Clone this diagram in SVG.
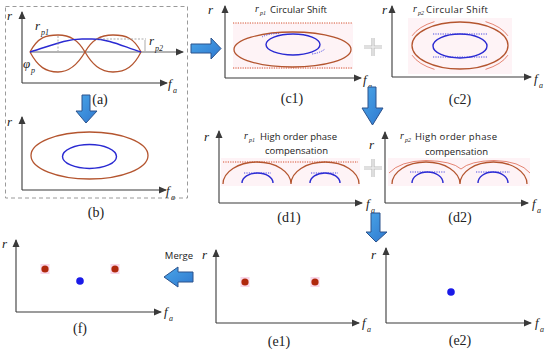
<svg xmlns="http://www.w3.org/2000/svg" width="550" height="351" viewBox="0 0 550 351">
<style>
.axis{stroke:#3a3a3a;stroke-width:1.1;fill:none;marker-end:url(#ah)}
.ax{font-family:"Liberation Serif",serif;font-style:italic;font-size:13px;fill:#222}
.sub{font-family:"Liberation Serif",serif;font-style:italic;font-size:8px;fill:#222}
.lbl{font-family:"Liberation Serif",serif;font-size:14px;fill:#222;text-anchor:middle}
.ttl{font-family:"Open Sans","Liberation Sans",sans-serif;font-size:9.5px;fill:#222}
.brown{stroke:#b4552f;stroke-width:1.3;fill:none}
.blue{stroke:#2a2ad2;stroke-width:1.4;fill:none}
.rdot{stroke:#d0401c;stroke-width:0.9;stroke-dasharray:1.2 1.2;fill:none}
.bdot{stroke:#3a3ae0;stroke-width:0.9;stroke-dasharray:1.2 1.2;fill:none}
.rthin{stroke:#d8553a;stroke-width:0.7;fill:none}
.pink{fill:#fef3f6}
.pinksq{fill:#f9d6e8}
.rd{fill:#b0280c}
.bd{fill:#1a1ae8}
.big{fill:url(#bg);stroke:#2c528c;stroke-width:1}
.plus{stroke:#bdbdbd;stroke-width:3.2;fill:none}
.plusin{stroke:#ececec;stroke-width:1.4;fill:none}
</style>
<defs>
<marker id="ah" markerWidth="8" markerHeight="8" refX="7" refY="4" orient="auto" markerUnits="userSpaceOnUse"><path d="M0,0.5 L8,4 L0,7.5 z" fill="#3a3a3a"/></marker>
<linearGradient id="bg" x1="0" y1="0" x2="1" y2="1"><stop offset="0" stop-color="#4aa6e8"/><stop offset="1" stop-color="#2f78cf"/></linearGradient>
</defs>
<rect width="550" height="351" fill="#fff"/>

<g id="panel-a">
<rect x="5.5" y="6.5" width="182" height="191.5" fill="none" stroke="#9a9a9a" stroke-width="1" stroke-dasharray="4 3"/>
<path class="axis" d="M22,83 V12"/>
<path class="axis" d="M22,83 H167"/>
<text class="ax" x="7" y="20">r</text>
<text class="ax" x="168" y="88">f</text><text class="sub" x="173" y="93">a</text>
<path d="M30,52 H183" stroke="#555" stroke-width="0.9" fill="none" marker-end="url(#ah)"/>
<path class="brown" d="M30,52 C38,37 46,35 58,35 C70,35 78,40 85,52 C92,64 100,72 113,72 C126,72 134,66 141,52"/>
<path class="brown" d="M30,52 C38,67 46,72 58,72 C70,72 78,64 85,52 C92,40 100,35 113,35 C126,35 134,38 141,52"/>
<path class="blue" d="M30,52 C48,47 64,39 82,39 L92,39 C110,39 124,47 141,52"/>
<path d="M58,36 V51" stroke="#888" stroke-width="0.7" stroke-dasharray="2 1.5"/>
<path d="M96,39 H146" stroke="#888" stroke-width="0.7" stroke-dasharray="2 1.5"/>
<path d="M145,40 V51" stroke="#888" stroke-width="0.7"/>
<text class="ax" x="35" y="30">r</text><text class="sub" x="41" y="35">p1</text>
<text class="ax" x="149" y="45">r</text><text class="sub" x="155" y="51">p2</text>
<text class="ax" x="23" y="68">φ</text><text class="sub" x="31" y="73">p</text>
<text class="lbl" x="100" y="104">(a)</text>
</g>

<g id="panel-b">
<path class="axis" d="M22,190 V117"/>
<path class="axis" d="M22,190 H166"/>
<text class="ax" x="7" y="126">r</text>
<text class="ax" x="166" y="195">f</text><text class="sub" x="171" y="200">a</text>
<ellipse class="brown" cx="89.5" cy="155.5" rx="58.5" ry="23.5"/>
<ellipse class="blue" cx="89.5" cy="156.5" rx="27" ry="12"/>
<text class="lbl" x="96" y="217">(b)</text>
</g>

<g id="panel-c1">
<rect class="pink" x="233" y="23" width="120" height="46"/>
<path class="axis" d="M225,78 V6"/>
<path class="axis" d="M225,78 H361"/>
<text class="ax" x="208" y="14">r</text>
<text class="ax" x="363" y="84">f</text><text class="sub" x="368" y="89">a</text>
<text class="ax" x="255" y="12" style="font-size:10px">r</text><text class="sub" x="260" y="15" style="font-size:6px">p1</text>
<text class="ttl" x="270" y="13" textLength="57">Circular Shift</text>
<path class="rdot" d="M233,23 H352 M233,68 H352"/>
<ellipse class="brown" cx="292.5" cy="49.5" rx="58.5" ry="17.5"/>
<ellipse class="blue" cx="293" cy="44.5" rx="27" ry="10.5"/>
<path class="bdot" d="M262,37 Q268,33.5 279,33.5 M312,54 Q320,53 325,49"/>
<text class="lbl" x="292" y="103">(c1)</text>
</g>

<g id="panel-c2">
<rect class="pink" x="408" y="18" width="104" height="56"/>
<path class="axis" d="M392,77 V6"/>
<path class="axis" d="M392,77 H531"/>
<text class="ax" x="382" y="14">r</text>
<text class="ax" x="534" y="83">f</text><text class="sub" x="539" y="88">a</text>
<text class="ax" x="413" y="12" style="font-size:10px">r</text><text class="sub" x="418" y="15" style="font-size:6px">p2</text>
<text class="ttl" x="426" y="13" textLength="62">Circular Shift</text>
<ellipse class="brown" cx="460" cy="45.5" rx="48" ry="23.5"/>
<path class="rthin" d="M507.9,35.8 A51,27 0 0 0 485.5,21.6 M434.5,21.6 A51,27 0 0 0 412.1,35.8 M412.1,55.2 A51,27 0 0 0 434.5,69.4 M485.5,69.4 A51,27 0 0 0 507.9,55.2"/>
<ellipse class="blue" cx="460" cy="46" rx="27" ry="12"/>
<path class="bdot" d="M433,34 H487 M433,57 H487"/>
<text class="lbl" x="460" y="104">(c2)</text>
</g>

<g id="panel-d1">
<rect class="pink" x="221" y="158" width="139" height="28"/>
<path class="axis" d="M219,203 V131"/>
<path class="axis" d="M219,203 H362"/>
<text class="ax" x="204" y="141">r</text>
<text class="ax" x="366" y="208">f</text><text class="sub" x="371" y="213">a</text>
<text class="ax" x="244" y="139" style="font-size:10px">r</text><text class="sub" x="249" y="142" style="font-size:6px">p1</text>
<text class="ttl" x="260" y="140" textLength="77">High order phase</text>
<text class="ttl" x="265" y="154" textLength="63">compensation</text>
<path class="rdot" d="M223,162 H358"/>
<path class="brown" d="M223,184 A34,22 0 0 1 291,184 A34,22 0 0 1 359,184"/>
<path class="blue" d="M242,183 A15.5,10 0 0 1 273,183 M310,183 A15,10 0 0 1 340,183"/>
<path class="bdot" d="M244,173 H271 M311,173 H338"/>
<text class="lbl" x="289" y="222">(d1)</text>
</g>

<g id="panel-d2">
<rect class="pink" x="388" y="158" width="142" height="28"/>
<path class="axis" d="M385,203 V132"/>
<path class="axis" d="M385,203 H528"/>
<text class="ax" x="369" y="149">r</text>
<text class="ax" x="532" y="208">f</text><text class="sub" x="537" y="213">a</text>
<text class="ax" x="400" y="139" style="font-size:10px">r</text><text class="sub" x="405" y="142" style="font-size:6px">p2</text>
<text class="ttl" x="415" y="140" textLength="82">High order phase</text>
<text class="ttl" x="425" y="155" textLength="63">compensation</text>
<path class="brown" d="M392,184 A34,22 0 0 1 460,184 A33.5,22 0 0 1 527,184"/>
<path class="rthin" d="M389,173 Q400,161 426,160.5 Q452,161 461,169 Q470,161 494,160.5 Q520,161 530,173"/>
<path class="blue" d="M412,183 A15.5,11 0 0 1 443,183 M478,183 A15,11 0 0 1 508,183"/>
<path class="bdot" d="M410,172 H445 M476,172 H510"/>
<text class="lbl" x="460" y="222">(d2)</text>
</g>

<g id="panel-e1">
<path class="axis" d="M216,323 V250"/>
<path class="axis" d="M216,323 H359"/>
<text class="ax" x="202" y="259">r</text>
<text class="ax" x="362" y="327">f</text><text class="sub" x="367" y="332">a</text>
<rect class="pinksq" x="240.5" y="277" width="9" height="10"/>
<rect class="pinksq" x="310.5" y="277" width="9" height="10"/>
<circle class="rd" cx="245" cy="282" r="3.6"/>
<circle class="rd" cx="315" cy="282" r="3.6"/>
<text class="lbl" x="279" y="346">(e1)</text>
</g>

<g id="panel-e2">
<path class="axis" d="M386,323 V248"/>
<path class="axis" d="M386,323 H531"/>
<text class="ax" x="371" y="259">r</text>
<text class="ax" x="535" y="327">f</text><text class="sub" x="540" y="332">a</text>
<circle class="bd" cx="451" cy="292" r="3.8"/>
<text class="lbl" x="460" y="345">(e2)</text>
</g>

<g id="panel-f">
<path class="axis" d="M16,312 V240"/>
<path class="axis" d="M16,312 H161"/>
<text class="ax" x="2" y="248">r</text>
<text class="ax" x="164" y="316">f</text><text class="sub" x="169" y="321">a</text>
<rect class="pinksq" x="40.5" y="264" width="9" height="10"/>
<rect class="pinksq" x="110.5" y="264" width="9" height="10"/>
<circle class="rd" cx="45" cy="269" r="3.6"/>
<circle class="rd" cx="115" cy="269" r="3.6"/>
<circle class="bd" cx="80" cy="281" r="3.8"/>
<text class="lbl" x="80" y="333">(f)</text>
</g>

<g id="connectors">
<path class="big" d="M82,95 H90 V111 H97 L86,123 L76,111 H82 Z"/>
<path class="big" d="M191,44 H211 V38 L221,48.5 L211,59 V53 H191 Z"/>
<path class="big" d="M368,87 H376 V108 H383 L372.5,125 L362,108 H368 Z"/>
<path class="big" d="M371,213 H380 V232 H387 L376,242 L366,232 H371 Z"/>
<path class="big" d="M193,272 H178 V267 L164,277 L178,287 V282 H193 Z"/>
<text class="ttl" x="179" y="259" text-anchor="middle">Merge</text>
<path class="plus" d="M364,47 H382 M373,38 V56"/>
<path class="plusin" d="M364,47 H382 M373,38 V56"/>
<path class="plus" d="M364,168 H382 M373,159 V177"/>
<path class="plusin" d="M364,168 H382 M373,159 V177"/>
</g>
</svg>
